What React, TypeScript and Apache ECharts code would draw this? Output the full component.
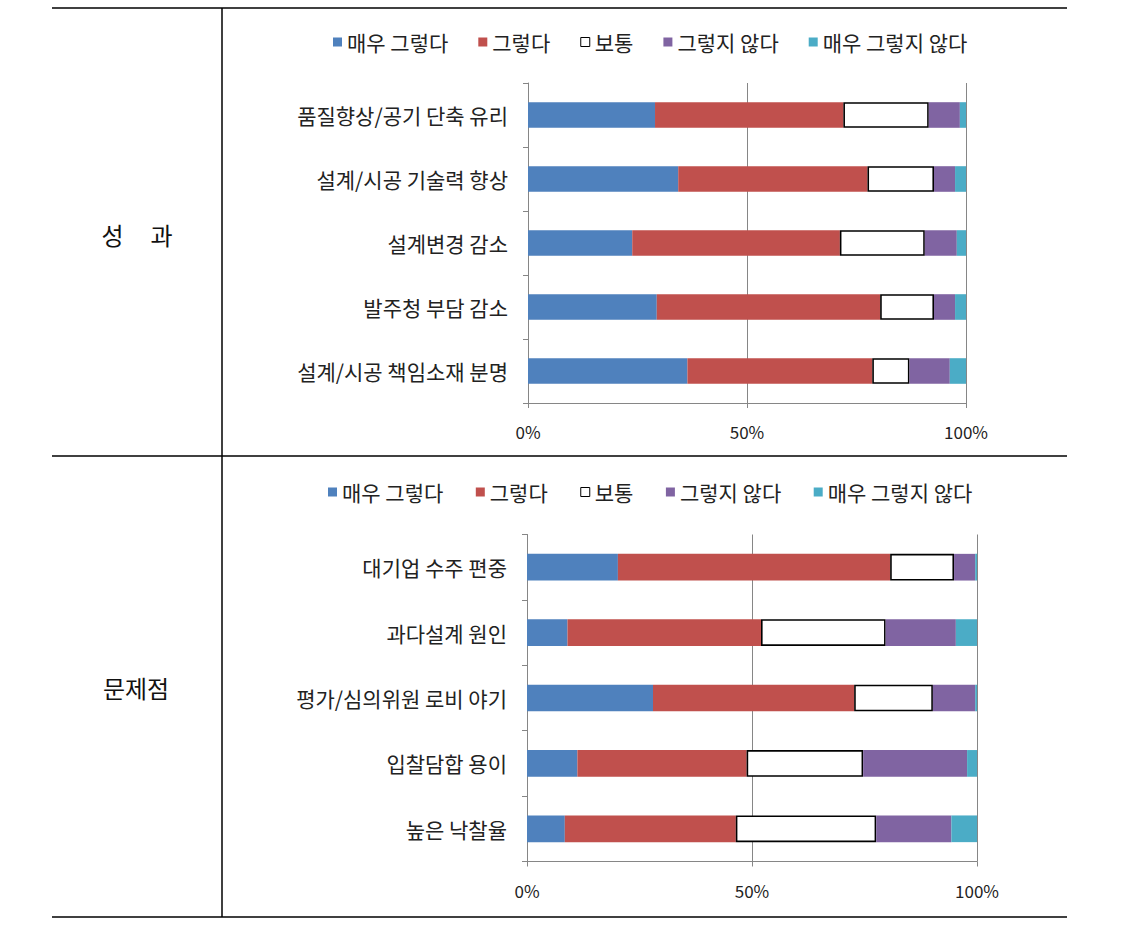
import React, { useEffect, useRef } from "react";
import * as echarts from "echarts";

const legendNames = ["매우 그렇다", "그렇다", "보통", "그렇지 않다", "매우 그렇지 않다"];
const tickLabels = ["0%", "50%", "100%"];

const categories1 = ["품질향상/공기 단축 유리", "설계/시공 기술력 향상", "설계변경 감소", "발주청 부담 감소", "설계/시공 책임소재 분명"];
const veryYes1 = [29.0, 34.3, 23.8, 29.4, 36.4];
const yes1 = [43.0, 43.2, 47.4, 51.0, 42.2];
const neutral1 = [19.5, 15.2, 19.4, 12.3, 8.5];
const no1 = [7.1, 4.8, 7.3, 4.8, 9.2];
const veryNo1 = [1.4, 2.5, 2.1, 2.5, 3.7];

const categories2 = ["대기업 수주 편중", "과다설계 원인", "평가/심의위원 로비 야기", "입찰담합 용이", "높은 낙찰율"];
const veryYes2 = [20.2, 9.0, 28.0, 11.2, 8.4];
const yes2 = [60.5, 43.0, 44.7, 37.6, 38.0];
const neutral2 = [14.2, 27.7, 17.5, 25.9, 31.2];
const no2 = [4.7, 15.6, 9.4, 23.1, 16.7];
const veryNo2 = [0.4, 4.7, 0.4, 2.2, 5.7];

const rowLabels = ["성     과", "문제점"];

const FONT = '"Noto Sans CJK KR", "Noto Sans", sans-serif';
const colors = ["#4F81BD", "#C0504D", "#FFFFFF", "#8064A2", "#4BACC6"];

export default function App() {
  const ref = useRef<HTMLDivElement>(null);
  useEffect(() => {
    if (!ref.current) return;
    const chart = echarts.init(ref.current, null, { renderer: "svg" });
    const sets = [
      [veryYes1, yes1, neutral1, no1, veryNo1],
      [veryYes2, yes2, neutral2, no2, veryNo2],
    ];
    const barWidths = [25.6, 26.7];
    const series: any[] = [];
    sets.forEach((set, gi) => {
      set.forEach((vals, si) => {
        series.push({
          type: "bar",
          name: legendNames[si],
          stack: "s" + gi,
          xAxisIndex: gi,
          yAxisIndex: gi,
          barWidth: barWidths[gi],
          data: vals,
          itemStyle:
            si === 2
              ? { color: "#FFFFFF", borderColor: "#000000", borderWidth: 1.6 }
              : { color: colors[si] },
        });
      });
    });
    const legendData = legendNames.map((n, i) =>
      i === 2
        ? { name: n, icon: "rect", itemStyle: { color: "#FFFFFF", borderColor: "#000", borderWidth: 1 } }
        : { name: n, icon: "rect", itemStyle: { color: colors[i] } }
    );
    const grids = [
      { left: 528, top: 83, width: 438, height: 320 },
      { left: 527, top: 534.5, width: 450, height: 327 },
    ];
    const xAxes = grids.map((_, gi) => ({
      type: "value",
      gridIndex: gi,
      min: 0,
      max: 100,
      interval: 50,
      axisLine: { show: true, lineStyle: { color: "#868686", width: 1 } },
      axisTick: { show: true, length: 5, lineStyle: { color: "#868686" } },
      splitLine: { show: true, lineStyle: { color: "#868686", width: 1 } },
      axisLabel: {
        margin: 20,
        fontSize: 17,
        color: "#222",
        fontFamily: FONT,
        formatter: (v: number) => tickLabels[Math.round(v / 50)],
      },
    }));
    const yAxes = [categories1, categories2].map((cats, gi) => ({
      type: "category",
      gridIndex: gi,
      inverse: true,
      data: cats,
      axisLine: { show: true, lineStyle: { color: "#868686", width: 1 } },
      axisTick: { show: true, length: 5, lineStyle: { color: "#868686" } },
      axisLabel: { margin: 20, fontSize: 21, color: "#222", fontFamily: FONT },
    }));
    const L = { stroke: "#000", lineWidth: 1.5 };
    chart.setOption({
      animation: false,
      backgroundColor: "#fff",
      legend: [
        {
          left: 328, top: 26.5, itemWidth: 9, itemHeight: 9, itemGap: 30, padding: 5,
          textStyle: { fontSize: 21, color: "#222", fontFamily: FONT },
          data: legendData, selectedMode: false,
        },
        {
          left: 323, top: 476.5, itemWidth: 9, itemHeight: 9, itemGap: 32.5, padding: 5,
          textStyle: { fontSize: 21, color: "#222", fontFamily: FONT },
          data: legendData, selectedMode: false,
        },
      ],
      grid: grids,
      xAxis: xAxes,
      yAxis: yAxes,
      series,
      graphic: [
        { type: "line", shape: { x1: 52, y1: 8, x2: 1067, y2: 8 }, style: L },
        { type: "line", shape: { x1: 52, y1: 456, x2: 1067, y2: 456 }, style: L },
        { type: "line", shape: { x1: 52, y1: 917, x2: 1067, y2: 917 }, style: L },
        { type: "line", shape: { x1: 222, y1: 8, x2: 222, y2: 917 }, style: L },
        {
          type: "text", x: 137, y: 234,
          style: { text: rowLabels[0], font: `24px ${FONT}`, fill: "#111", align: "center", verticalAlign: "middle" },
        },
        {
          type: "text", x: 136, y: 687,
          style: { text: rowLabels[1], font: `24px ${FONT}`, fill: "#111", align: "center", verticalAlign: "middle" },
        },
      ],
    });
    return () => chart.dispose();
  }, []);
  return <div ref={ref} style={{ position: "absolute", left: 0, top: 0, width: 1128, height: 937 }} />;
}
